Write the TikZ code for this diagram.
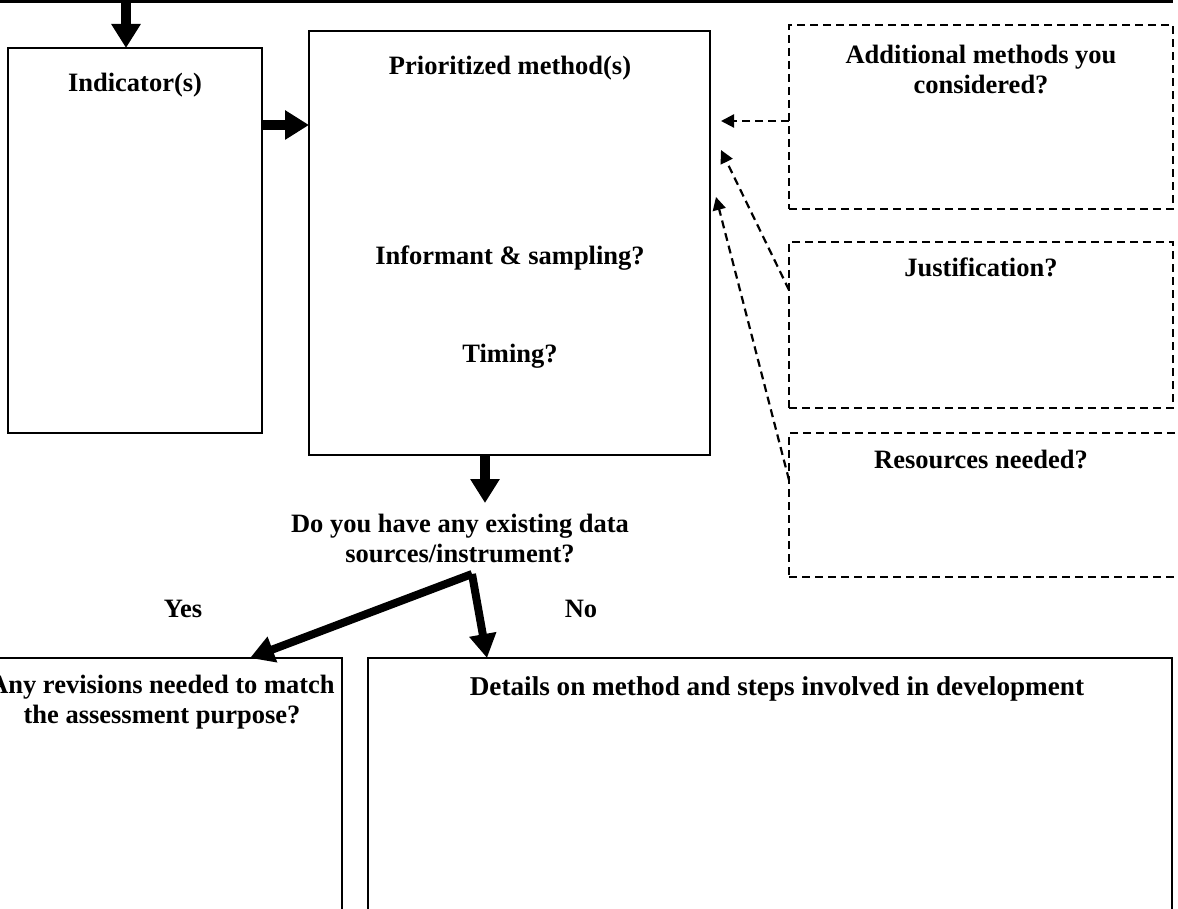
\documentclass[tikz,border=0pt]{standalone}
\usepackage{fontspec}
\setmainfont{Liberation Serif}
\usetikzlibrary{arrows.meta}
\tikzset{
  box/.style={draw, line width=2pt, rectangle, inner sep=0pt, outer sep=0pt, anchor=north west},
  dbox/.style={box, dash pattern=on 8pt off 5pt},
  txt/.style={font=\fontsize{26.5}{30}\selectfont\bfseries, align=center, inner sep=0pt, anchor=base},
  txtm/.style={txt, anchor=north},
  bigarrow/.style={line width=10pt, -{Triangle[length=24pt,width=28pt]}},
  midarrow/.style={line width=8pt, -{Triangle[length=24pt,width=26pt]}},
  darrow/.style={line width=2.2pt, dash pattern=on 8pt off 5pt, -{Triangle[length=13pt,width=13pt]}},
}
\begin{document}
\begin{tikzpicture}[x=1pt,y=-1pt]
\useasboundingbox (0,0) rectangle (1178,909);
% top line
\coordinate (tl0) at (0,1);
\coordinate (tl1) at (1173,1);
\draw[line width=3.5pt] (tl0) -- (tl1);
\coordinate (t1) at (126,0);
% boxes
\node[box, minimum width=254pt, minimum height=385pt] (ind) at (8,48) {};
\node[box, minimum width=401pt, minimum height=424pt] (pri) at (309,31) {};
\node[dbox, minimum width=384pt, minimum height=184pt] (add) at (789,25) {};
\node[dbox, minimum width=384pt, minimum height=166pt] (jus) at (789,242) {};
\node[dbox, minimum width=420pt, minimum height=144pt] (res) at (789,433) {};
\node[box, minimum width=357pt, minimum height=300pt] (rev) at (-15,658) {};
\node[box, minimum width=804pt, minimum height=300pt] (det) at (368,658) {};
% texts
\node[txt] (tind) at (135,92) {Indicator(s)};
\node[txt] (tpri) at (510,75) {Prioritized method(s)};
\node[txt] (tinf) at (510,265) {Informant \& sampling?};
\node[txt] (ttim) at (510,362) {Timing?};
\node[txtm] (tadd) at (981,45) {Additional methods you\\considered?};
\node[txt] (tjus) at (981,277) {Justification?};
\node[txt] (tres) at (981,468) {Resources needed?};
\node[txtm] (tq) at (460,514) {Do you have any existing data\\sources/instrument?};
\node[txt] (tyes) at (183,617) {Yes};
\node[txt] (tno) at (581,617) {No};
\node[txtm] (trev) at (162,675) {Any revisions needed to match\\the assessment purpose?};
\node[txt, font=\fontsize{27.2}{30}\selectfont\bfseries] (tdet) at (777,695) {Details on method and steps involved in development};
% arrows
\draw[bigarrow] (t1) -- (t1 |- ind.north);
\draw[bigarrow] (ind.east |- 0,125) -- (pri.west |- 0,125);
\coordinate (qa) at (485,503);
\draw[bigarrow] (pri.south -| qa) -- (qa);
\coordinate (br) at (472,574);
\draw[midarrow] (br) -- (rev.north -| 250,0);
\draw[midarrow] (br) -- (det.north -| 487,0);
% dashed arrows
\coordinate (d1) at (721,121);
\coordinate (d2) at (721,150);
\coordinate (d3) at (716,197);
\draw[darrow] (add.west |- 0,121) -- (d1);
\draw[darrow] (jus.west |- 0,290) -- (d2);
\draw[darrow] (res.west |- 0,480) -- (d3);
\end{tikzpicture}
\end{document}
